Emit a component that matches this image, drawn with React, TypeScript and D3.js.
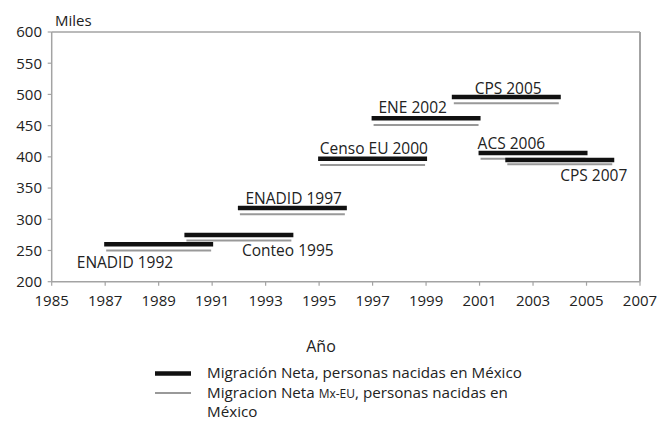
import React from "react";
import * as d3 from "d3";

const surveys = ["ENADID 1992", "Conteo 1995", "ENADID 1997", "Censo EU 2000", "ENE 2002", "CPS 2005", "ACS 2006", "CPS 2007"];
const startYears = [1987, 1990, 1992, 1995, 1997, 2000, 2001, 2002];
const endYears = [1991, 1994, 1996, 1999, 2001, 2004, 2005, 2006];
const netMigration = [260, 275, 318, 397, 462, 496, 406, 395];
const netMigrationMxEU = [250, 266, 308, 387, 451, 486, 397, 388];
const labelYears = [1987.74, 1993.83, 1994.05, 1997.05, 1998.5, 2002.07, 2002.19, 2005.27];
const labelValues = [231.6, 250, 333, 413, 478.5, 510, 421, 370.5];
const xTicks = [1985, 1987, 1989, 1991, 1993, 1995, 1997, 1999, 2001, 2003, 2005, 2007];
const yTicks = [200, 250, 300, 350, 400, 450, 500, 550, 600];

const W = 668;
const H = 422;
const font = "'Open Sans', sans-serif";

export default function App() {
  const x = d3.scaleLinear().domain([1985, 2007]).range([51.7, 640]);
  const y = d3.scaleLinear().domain([200, 600]).range([281.7, 32]);
  const axisColor = "#a3a3a3";
  const txt = "#222";

  return (
    <svg width={W} height={H} style={{ position: "absolute", left: 0, top: 0 }} fontFamily={font}>
      <rect x={0} y={0} width={W} height={H} fill="#fff" />
      {/* plot border */}
      <line x1={x(1985)} x2={x(2007)} y1={y(600)} y2={y(600)} stroke={axisColor} strokeWidth={1.5} />
      <line x1={x(2007)} x2={x(2007)} y1={y(600)} y2={y(200)} stroke={axisColor} strokeWidth={2} />
      <line x1={x(1985)} x2={x(1985)} y1={y(600)} y2={y(200)} stroke={axisColor} strokeWidth={1.5} />
      <line x1={x(1985)} x2={x(2007)} y1={y(200)} y2={y(200)} stroke={axisColor} strokeWidth={1.5} />
      {/* y ticks */}
      {yTicks.map((t) => (
        <g key={"y" + t}>
          <line x1={x(1985) - 4} x2={x(1985)} y1={y(t)} y2={y(t)} stroke={axisColor} strokeWidth={1.2} />
          <text x={42} y={y(t)} dy="0.36em" textAnchor="end" fontSize={15} fill={txt}>
            {t}
          </text>
        </g>
      ))}
      {/* x ticks */}
      {xTicks.map((t) => (
        <g key={"x" + t}>
          <line x1={x(t)} x2={x(t)} y1={y(200)} y2={y(200) + 4} stroke={axisColor} strokeWidth={1.2} />
          <text x={x(t)} y={306} textAnchor="middle" fontSize={15} fill={txt}>
            {t}
          </text>
        </g>
      ))}
      <text x={55} y={26} fontSize={15} fill={txt}>Miles</text>
      <text x={321} y={352} textAnchor="middle" fontSize={16} fill={txt}>Año</text>

      {/* segments */}
      {surveys.map((s, i) => (
        <line
          key={s + "g"}
          x1={x(startYears[i]) + 1}
          x2={x(endYears[i]) - 1}
          y1={y(netMigrationMxEU[i])}
          y2={y(netMigrationMxEU[i])}
          stroke="#999"
          strokeWidth={2}
        />
      ))}
      {surveys.map((s, i) => (
        <line
          key={s + "b"}
          x1={x(startYears[i]) - 1}
          x2={x(endYears[i]) + 1}
          y1={y(netMigration[i])}
          y2={y(netMigration[i])}
          stroke="#111"
          strokeWidth={4.5}
        />
      ))}
      {surveys.map((s, i) => (
        <text key={s + "t"} x={x(labelYears[i])} y={y(labelValues[i])} dy="0.36em" textAnchor="middle" fontSize={15.5} fill={txt}>
          {s}
        </text>
      ))}

      {/* legend */}
      <line x1={155} x2={191} y1={373.5} y2={373.5} stroke="#111" strokeWidth={4.5} />
      <line x1={155} x2={191} y1={393} y2={393} stroke="#999" strokeWidth={2} />
      <text x={207} y={378} fontSize={15.2} fill={txt}>Migración Neta, personas nacidas en México</text>
      <text x={207} y={398} fontSize={15.2} fill={txt}>
        Migracion Neta <tspan fontSize={12}>Mx-EU</tspan>, personas nacidas en
      </text>
      <text x={207} y={417} fontSize={15.2} fill={txt}>México</text>
    </svg>
  );
}
